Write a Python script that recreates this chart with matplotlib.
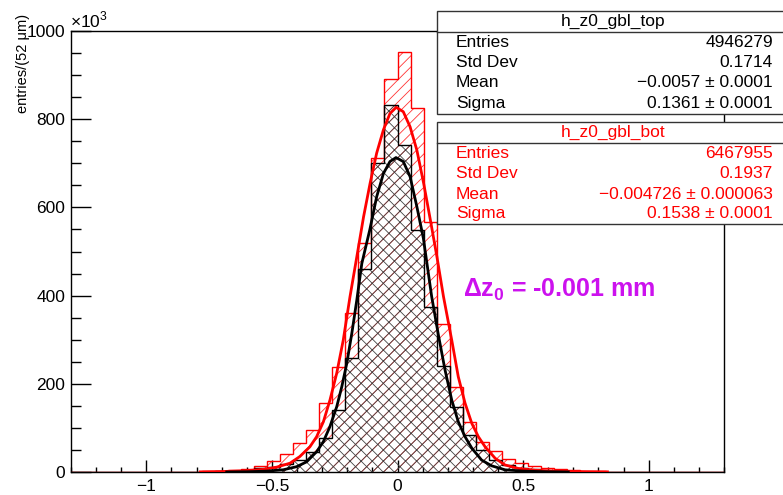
import numpy as np
import matplotlib
matplotlib.use("Agg")
import matplotlib.pyplot as plt
from matplotlib.ticker import MultipleLocator
from matplotlib.patches import Rectangle
from matplotlib.lines import Line2D

plt.rcParams['font.family'] = ['Liberation Sans', 'DejaVu Sans']
plt.rcParams['mathtext.fontset'] = 'custom'
plt.rcParams['mathtext.rm'] = 'Liberation Sans'
plt.rcParams['mathtext.bf'] = 'Liberation Sans:bold'
plt.rcParams['hatch.linewidth'] = 0.6

# histogram binning: 50 bins of 52 um between -1.3 and 1.3 mm
x_lo, x_hi, n_bins = -1.3, 1.3, 50

# counts in units of 10^3
top_counts = [0, 0, 0, 0, 0, 0, 0, 0, 0.3, 0.5,
              1, 2, 3, 5, 8, 12, 18, 27, 46, 76,
              141, 259, 460, 700, 832, 741, 549, 375, 240, 148,
              84, 50, 27, 16, 8, 6, 3, 2, 1, 0.5,
              0.3, 0, 0, 0, 0, 0, 0, 0, 0, 0]
bot_counts = [0, 0, 0, 0, 0, 0, 0, 0.3, 0.6, 1,
              1.5, 2.5, 4, 7, 13, 24, 40, 66, 95, 156,
              239, 360, 519, 711, 892, 953, 825, 567, 335, 192,
              114, 69, 48, 30, 20, 14, 8, 6, 4, 2,
              1.5, 1, 0.6, 0.3, 0, 0, 0, 0, 0, 0]

# fit curves
top_fit_x = [-0.68, -0.60, -0.52, -0.455, -0.402, -0.362, -0.322, -0.295, -0.269, -0.242,
             -0.222, -0.202, -0.182, -0.162, -0.142, -0.11, -0.083, -0.056, -0.030, -0.006,
             0.023, 0.050, 0.077, 0.103, 0.136, 0.163, 0.189, 0.216, 0.242, 0.269,
             0.296, 0.335, 0.375, 0.428, 0.50, 0.60, 0.68]
top_fit_y = [0, 0.5, 2, 5, 12, 23, 46, 69, 103, 148,
             193, 246, 314, 390, 473, 550, 624, 677, 704, 713,
             704, 670, 602, 530, 398, 310, 232, 163, 114, 80,
             54, 27, 14, 5, 2, 0.5, 0]
bot_fit_x = [-0.785, -0.70, -0.60, -0.534, -0.481, -0.428, -0.389, -0.349, -0.322, -0.295,
             -0.269, -0.242, -0.216, -0.189, -0.162, -0.135, -0.109, -0.083, -0.056, -0.030,
             -0.005, 0.023, 0.050, 0.077, 0.104, 0.131, 0.157, 0.183, 0.216, 0.242,
             0.269, 0.296, 0.322, 0.349, 0.389, 0.428, 0.481, 0.548, 0.65, 0.75, 0.836]
bot_fit_y = [0.3, 1, 3, 6, 11, 20, 35, 57, 80, 114,
             163, 224, 299, 398, 488, 579, 655, 723, 776, 813,
             827, 817, 783, 730, 655, 571, 488, 398, 299, 216,
             156, 110, 80, 57, 31, 16, 8, 4, 1.5, 0.7, 0.3]

stat_labels = ['Entries', 'Std Dev', 'Mean', 'Sigma']
top_stats = ['4946279', '0.1714', '\u22120.0057 \u00b1 0.0001', '0.1361 \u00b1 0.0001']
bot_stats = ['6467955', '0.1937', '\u22120.004726 \u00b1 0.000063', '0.1538 \u00b1 0.0001']

W, H = 783, 495
fig = plt.figure(figsize=(W / 100, H / 100), dpi=100)
ax = fig.add_axes([71 / W, 1 - 472 / H, (724 - 71) / W, (472 - 31) / H])

edges = np.linspace(x_lo, x_hi, n_bins + 1)
red = '#ff0000'

ax.stairs(bot_counts, edges, fill=True, hatch='///', facecolor='none',
          edgecolor='#ff3333', linewidth=0, zorder=1)
ax.stairs(top_counts, edges, fill=True, hatch='xxx', facecolor='none',
          edgecolor='#444444', linewidth=0, zorder=2)
ax.stairs(bot_counts, edges, color=red, linewidth=1.0, zorder=3)
ax.stairs(top_counts, edges, color='black', linewidth=1.0, zorder=4)
ax.plot(bot_fit_x, bot_fit_y, color=red, linewidth=2.0, zorder=5)
ax.plot(top_fit_x, top_fit_y, color='black', linewidth=2.0, zorder=6)

ax.set_xlim(x_lo, x_hi)
ax.set_ylim(0, 1000)
ax.set_xticks([-1, -0.5, 0, 0.5, 1])
ax.set_xticklabels(['\u22121', '\u22120.5', '0', '0.5', '1'])
ax.xaxis.set_minor_locator(MultipleLocator(0.1))
ax.yaxis.set_major_locator(MultipleLocator(200))
ax.yaxis.set_minor_locator(MultipleLocator(50))
ax.tick_params(which='both', direction='in', top=False, right=False,
               labelsize=12.5, width=1.0)
ax.tick_params(axis='x', which='major', length=8.6, pad=5)
ax.tick_params(axis='x', which='minor', length=3.5)
ax.tick_params(axis='y', which='major', length=14.4, pad=4)
ax.tick_params(axis='y', which='minor', length=7.2)
for sp in ax.spines.values():
    sp.set_linewidth(1.0)

fig.text(70 / W, 1 - 27 / H, '\u00d710$^3$', ha='left', va='baseline', fontsize=12.5)
fig.text(23 / W, 1 - 14 / H, 'entries/(52 \u03bcm)', rotation=90,
         ha='center', va='top', fontsize=10.5)

ax.text(463 / W, 1 - 297 / H, '\u0394z$_\\mathbf{0}$ = -0.001 mm', transform=fig.transFigure,
        color='#cc11ee', fontsize=18, fontweight='bold', ha='left', va='baseline')


def stats_box(top_px, bot_px, div_px, title, rows, values, color, row_px):
    x0 = 437 / W
    rect = Rectangle((x0, 1 - bot_px / H), 1.02 - x0, (bot_px - top_px) / H,
                     transform=fig.transFigure, facecolor='white',
                     edgecolor='#333333', linewidth=1.0, zorder=10)
    fig.add_artist(rect)
    fig.add_artist(Line2D([x0, 1.0], [1 - div_px / H] * 2, transform=fig.transFigure,
                          color='#333333', linewidth=1.0, zorder=11))
    fig.text(613 / W, 1 - ((top_px + div_px) / 2) / H, title, ha='center',
             va='center', fontsize=12.5, color=color, zorder=12)
    for lab, val, ypx in zip(rows, values, row_px):
        fig.text(456 / W, 1 - ypx / H, lab, ha='left', va='center',
                 fontsize=12.5, color=color, zorder=12)
        fig.text(773 / W, 1 - ypx / H, val, ha='right', va='center',
                 fontsize=12.5, color=color, zorder=12)


stats_box(11, 114, 32, 'h_z0_gbl_top', stat_labels, top_stats, 'black',
          [42.3, 62.7, 82.7, 103.3])
stats_box(122, 224, 143, 'h_z0_gbl_bot', stat_labels, bot_stats, red,
          [153.3, 173.3, 194, 213.3])

fig.savefig('out.png', dpi=100)
